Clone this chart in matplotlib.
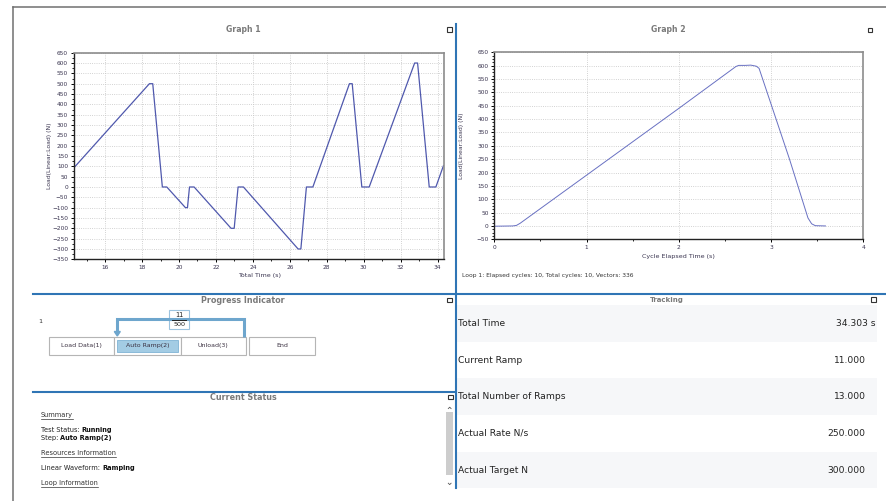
import matplotlib
matplotlib.use("Agg")
import matplotlib.pyplot as plt
from matplotlib.patches import Rectangle, Polygon
from matplotlib.ticker import MultipleLocator

# Graph 1: load over the last 20 s of total time
total_time = [14.30, 18.40, 18.58, 19.10, 19.34, 20.35, 20.46, 20.57, 20.82,
              22.82, 22.99, 23.20, 23.49, 26.45, 26.60, 26.90, 27.25, 29.23,
              29.38, 29.90, 30.30, 32.76, 32.92, 33.55, 33.91, 34.32]
total_load = [92, 500, 500, 0, 0, -100, -100, 0, 0,
              -200, -200, 0, 0, -300, -300, 0, 0, 500,
              500, 0, 0, 600, 600, 0, 0, 103]

# Graph 2: load within the current cycle
cycle_time = [0.00, 0.20, 0.24, 0.28, 1.00, 2.00, 2.62, 2.65, 2.72, 2.78,
              2.84, 2.87, 3.20, 3.40, 3.44, 3.48, 3.59]
cycle_load = [-1, 0, 2, 10, 190, 440, 597, 601, 601, 602,
              598, 590, 250, 30, 8, 1, 0]

loop_info = "Loop 1: Elapsed cycles: 10, Total cycles: 10, Vectors: 336"

steps = ["Load Data(1)", "Auto Ramp(2)", "Unload(3)", "End"]
active_step = 1
loop_done = 11
loop_total = 500

track_labels = ["Total Time", "Current Ramp", "Total Number of Ramps",
                "Actual Rate N/s", "Actual Target N"]
track_values = ["34.303 s", "11.000", "13.000", "250.000", "300.000"]

W, H = 887, 501
BLUE = "#2f75b5"
TITLE_C = "#7a7a7a"
LINE_C = "#4f58ad"

fig = plt.figure(figsize=(W / 100, H / 100), dpi=100)
fig.patch.set_facecolor("white")

# pixel-space canvas for panel furniture
bg = fig.add_axes([0, 0, 1, 1])
bg.set_xlim(0, W)
bg.set_ylim(H, 0)
bg.axis("off")


def px_axes(left, top, right, bottom):
    return fig.add_axes([left / W, 1 - bottom / H, (right - left) / W, (bottom - top) / H])


def max_box(x, y):
    bg.add_patch(Rectangle((x - 2.3, y - 2.3), 4.6, 4.6, fill=False, ec="#333333", lw=0.8))


def style_chart(ax, xmaj, xmin, ymaj, ymin):
    ax.xaxis.set_major_locator(MultipleLocator(xmaj))
    ax.xaxis.set_minor_locator(MultipleLocator(xmin))
    ax.yaxis.set_major_locator(MultipleLocator(ymaj))
    ax.yaxis.set_minor_locator(MultipleLocator(ymin))
    ax.grid(True, which="major", ls=":", color="#c4c4c4", lw=0.6)
    ax.set_axisbelow(True)
    ax.tick_params(which="major", labelsize=4.2, labelcolor="#3a3550", length=2.5,
                   width=0.7, pad=1.5, direction="out")
    ax.tick_params(which="minor", length=1.5, width=0.6, direction="out")
    for side in ("top", "right"):
        ax.spines[side].set_color("#8c8c8c")
        ax.spines[side].set_linewidth(1.2)
    for side in ("left", "bottom"):
        ax.spines[side].set_color("#222222")
        ax.spines[side].set_linewidth(1.0)


# ---- Graph 1
ax1 = px_axes(73.7, 52.7, 444, 259.3)
ax1.plot(total_time, total_load, color=LINE_C, lw=0.9)
ax1.set_xlim(14.3, 34.35)
ax1.set_ylim(-350, 650)
style_chart(ax1, 2, 1, 50, 25)
ax1.set_xlabel("Total Time (s)", fontsize=4.6, color="#3a3550")
ax1.set_ylabel("Load(Linear:Load) (N)", fontsize=4.4, color="#3a3550")
ax1.xaxis.set_label_coords(0.503, -0.066)
ax1.yaxis.set_label_coords(-0.058, 0.5)

# ---- Graph 2
ax2 = px_axes(494.3, 52.3, 863.3, 239.3)
ax2.plot(cycle_time, cycle_load, color="#6870c2", lw=0.7)
ax2.set_xlim(0, 4)
ax2.set_ylim(-50, 650)
style_chart(ax2, 1, 0.5, 50, 12.5)
ax2.set_xlabel("Cycle Elapsed Time (s)", fontsize=4.6, color="#3a3550")
ax2.set_ylabel("Load(Linear:Load) (N)", fontsize=4.4, color="#3a3550")
ax2.xaxis.set_label_coords(0.5, -0.076)
ax2.yaxis.set_label_coords(-0.082, 0.5)
bg.text(462, 275.7, loop_info, fontsize=4.3, color="#333333", va="center")

# ---- frame and separators
bg.plot([13, W], [6.5, 6.5], color="#707070", lw=1.1)
bg.plot([13, 13], [6.5, H], color="#707070", lw=1.1)
bg.plot([455.7, 455.7], [24, 488], color=BLUE, lw=1.5)
bg.plot([33, W], [293.6, 293.6], color=BLUE, lw=1.5)
bg.plot([33, 455.7], [392, 392], color=BLUE, lw=1.5)

# ---- panel titles
bg.text(243, 29.5, "Graph 1", fontsize=5.6, weight="bold", color=TITLE_C, ha="center", va="center")
bg.text(668, 29.5, "Graph 2", fontsize=5.6, weight="bold", color=TITLE_C, ha="center", va="center")
bg.text(243, 300.3, "Progress Indicator", fontsize=5.8, weight="bold", color=TITLE_C, ha="center", va="center")
bg.text(243, 397.5, "Current Status", fontsize=5.8, weight="bold", color=TITLE_C, ha="center", va="center")
bg.text(667, 300.3, "Tracking", fontsize=5.0, weight="bold", color=TITLE_C, ha="center", va="center")
max_box(449.7, 29.5)
max_box(870.2, 30)
max_box(449.7, 299.8)
max_box(450.5, 396.8)
max_box(873.3, 299.5)

# ---- Progress indicator
bg.text(40, 321.7, "1", fontsize=4.6, color="#333333", va="center", ha="center")
LOOP_C = "#6ea6cd"
bg.plot([117.3, 117.3, 244, 244], [332, 319.3, 319.3, 337], color=LOOP_C, lw=2.2,
        solid_joinstyle="miter", solid_capstyle="butt")
bg.add_patch(Polygon([[114.3, 331.5], [120.3, 331.5], [117.3, 336]], closed=True, color=LOOP_C))
bg.add_patch(Rectangle((169.3, 310), 20, 19.3, fc="white", ec="#9cc3df", lw=0.8))
bg.plot([172.5, 186], [319.6, 319.6], color="#222222", lw=0.7)
bg.text(179.3, 314.8, str(loop_done), fontsize=4.8, color="#222222", ha="center", va="center")
bg.text(179.3, 324.6, str(loop_total), fontsize=4.6, color="#222222", ha="center", va="center")

btn_left = [49, 114.3, 180.7, 249]
btn_right = [114.3, 180.7, 246, 315]
for i, name in enumerate(steps):
    x0, x1 = btn_left[i], btn_right[i]
    bg.add_patch(Rectangle((x0, 336.7), x1 - x0, 18.3, fc="white", ec="#b5b5b5", lw=0.8))
    if i == active_step:
        bg.add_patch(Rectangle((x0 + 3, 339.5), x1 - x0 - 6, 12.5, fc="#a3cce4", ec="#7fb3d5", lw=0.6))
    bg.text((x0 + x1) / 2, 345.8, name, fontsize=4.5, color="#3a3040", ha="center", va="center")

# ---- Current status
renderer = fig.canvas.get_renderer()
to_px = bg.transData.inverted()


def underline(txt):
    bb = txt.get_window_extent(renderer)
    (xa, ya), (xb, yb) = to_px.transform([[bb.x0, bb.y0], [bb.x1, bb.y1]])
    bg.plot([xa, xb], [ya + 0.6, ya + 0.6], color="#333333", lw=0.5)


def label_value(x, y, label, value):
    t = bg.text(x, y, label, fontsize=4.8, color="#222222", va="center")
    bg.annotate(value, xy=(1, 0.5), xycoords=t, fontsize=4.8, weight="bold",
                color="#111111", va="center", ha="left")


STATUS_X = 41
for y, head in [(415.3, "Summary"), (453, "Resources Information"), (483.3, "Loop Information")]:
    underline(bg.text(STATUS_X, y, head, fontsize=4.8, color="#333333", va="center"))
label_value(STATUS_X, 430.3, "Test Status: ", "Running")
label_value(STATUS_X, 437.7, "Step: ", "Auto Ramp(2)")
label_value(STATUS_X, 468.3, "Linear Waveform: ", "Ramping")

# scrollbar with its two arrow chevrons
bg.add_patch(Rectangle((446.3, 411.7), 6.8, 63.3, fc="#cdcdcd", ec="none"))
bg.plot([448.3, 449.7, 451.1], [408.6, 407.2, 408.6], color="#555555", lw=0.6)
bg.plot([448.3, 449.7, 451.1], [483.2, 484.6, 483.2], color="#555555", lw=0.6)

# ---- Tracking table
row_top = 305
row_h = 36.67
for i, (lab, val) in enumerate(zip(track_labels, track_values)):
    y0 = row_top + i * row_h
    if i % 2 == 0:
        bg.add_patch(Rectangle((457, y0), 420, row_h, fc="#f6f7f9", ec="none"))
    yc = y0 + row_h / 2
    bg.text(458.5, yc, lab, fontsize=6.6, color="#222222", va="center")
    right = 875.5 if val.endswith("s") else 865.5
    bg.text(right, yc, val, fontsize=6.6, color="#222222", va="center", ha="right")

fig.savefig("out.png", dpi=100, facecolor="white")
